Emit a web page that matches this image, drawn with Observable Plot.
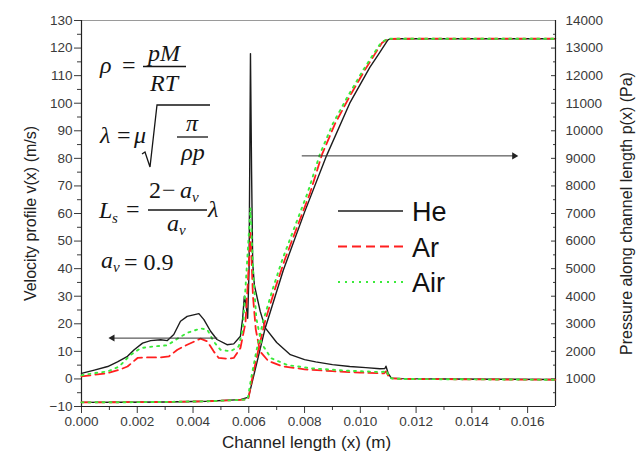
<!DOCTYPE html>
<html>
<head>
<meta charset="utf-8">
<script src="https://cdn.jsdelivr.net/npm/d3@7"></script>
<script src="https://cdn.jsdelivr.net/npm/@observablehq/plot@0.6"></script>
<style>
  html, body { margin: 0; padding: 0; background: #fff; }
  #chart { width: 644px; height: 463px; }
</style>
</head>
<body>
<div id="chart"></div>
<script>
// ---- axes ----
const xDomain = [0, 0.017];
const vDomain = [-10, 130];          // velocity (m/s), left axis
const pDomain = [0, 14000];          // pressure (Pa), right axis
const xMajor = [0, 0.002, 0.004, 0.006, 0.008, 0.010, 0.012, 0.014, 0.016];
const xMinor = [0.001, 0.003, 0.005, 0.007, 0.009, 0.011, 0.013, 0.015];
const vMajor = [-10, 0, 10, 20, 30, 40, 50, 60, 70, 80, 90, 100, 110, 120, 130];
const vMinor = [-5, 5, 15, 25, 35, 45, 55, 65, 75, 85, 95, 105, 115, 125];
const pMajor = [1000, 2000, 3000, 4000, 5000, 6000, 7000, 8000, 9000, 10000, 11000, 12000, 13000, 14000];
const pMinor = [500, 1500, 2500, 3500, 4500, 5500, 6500, 7500, 8500, 9500, 10500, 11500, 12500, 13500];

// ---- velocity profiles v(x) (m/s) ----
const heVx = [0, 0.00046, 0.00094, 0.00129, 0.00165, 0.00189, 0.00219, 0.00248, 0.00284, 0.00308, 0.00331, 0.00355, 0.00379, 0.00421, 0.00439, 0.00463, 0.00486, 0.00522, 0.00546, 0.00570, 0.00578, 0.00584, 0.00590, 0.00596, 0.00601, 0.00606, 0.00610, 0.00614, 0.00620, 0.00641, 0.00659, 0.00700, 0.00749, 0.00800, 0.00840, 0.00900, 0.00962, 0.01020, 0.01070, 0.01088, 0.01092, 0.01100, 0.01111, 0.01150, 0.01300, 0.01500, 0.01700];
const heV  = [2.0, 3.2, 4.5, 6.2, 8.2, 10.6, 13.0, 13.9, 14.2, 13.9, 16.1, 20.9, 22.7, 23.7, 21.5, 17.3, 14.3, 12.4, 12.7, 15.5, 22, 30, 27, 22, 40, 118, 75, 42, 34, 24.5, 18.5, 13.2, 8.8, 7.0, 6.2, 5.2, 4.5, 4.1, 3.7, 3.8, 4.6, 2.0, 0.3, 0.1, 0.0, -0.1, -0.2];

const arVx = [0, 0.00046, 0.00094, 0.00135, 0.00165, 0.00201, 0.00236, 0.00284, 0.00314, 0.00344, 0.00379, 0.00427, 0.00451, 0.00474, 0.00492, 0.00522, 0.00546, 0.00570, 0.00588, 0.00596, 0.00606, 0.00615, 0.00625, 0.00640, 0.00670, 0.00720, 0.00800, 0.00900, 0.01000, 0.01085, 0.01092, 0.01100, 0.01111, 0.01150, 0.01300, 0.01500, 0.01700];
const arV  = [0.9, 1.5, 2.1, 3.3, 4.5, 7.6, 7.8, 7.8, 8.2, 10.6, 12.4, 14.6, 13.6, 10.0, 7.6, 7.3, 7.6, 11.2, 20.3, 34, 53, 30, 18, 10, 6.5, 4.6, 3.5, 2.8, 2.3, 2.0, 2.7, 1.2, 0.2, 0.0, -0.1, -0.2, -0.3];

const airVx = [0, 0.00046, 0.00094, 0.00135, 0.00177, 0.00213, 0.00260, 0.00308, 0.00344, 0.00379, 0.00427, 0.00451, 0.00474, 0.00498, 0.00534, 0.00564, 0.00579, 0.00590, 0.00606, 0.00616, 0.00627, 0.00645, 0.00680, 0.00740, 0.00830, 0.00950, 0.01070, 0.01088, 0.01093, 0.01100, 0.01111, 0.01150, 0.01300, 0.01500, 0.01700];
const airV  = [1.3, 2.1, 2.7, 4.5, 8.8, 11.2, 11.8, 12.2, 14.6, 16.7, 18.3, 17.9, 13.6, 10.6, 10.0, 11.8, 18.5, 36, 62, 38, 22, 13, 7.5, 5.0, 3.8, 3.0, 2.5, 2.6, 3.1, 1.5, 0.2, 0.0, -0.1, -0.2, -0.3];

// ---- pressure along the channel p(x) (Pa) ----
const hePx = [0, 0.0015, 0.0030, 0.0045, 0.0057, 0.00599, 0.00659, 0.00724, 0.00800, 0.00879, 0.00962, 0.01034, 0.01064, 0.01099, 0.01110, 0.01300, 0.01500, 0.01700];
const heP  = [150, 155, 165, 190, 250, 340, 2850, 4950, 7050, 9100, 11000, 12300, 12750, 13300, 13340, 13340, 13340, 13340];

const arPx = [0, 0.0015, 0.0030, 0.0045, 0.0057, 0.00598, 0.00612, 0.00634, 0.00659, 0.00695, 0.00730, 0.00773, 0.00820, 0.00863, 0.00909, 0.00962, 0.01016, 0.01052, 0.01077, 0.01099, 0.01300, 0.01500, 0.01700];
const arP  = [150, 155, 165, 190, 240, 260, 1000, 2050, 3119, 4300, 5350, 6500, 7750, 9150, 10250, 11250, 12200, 12780, 13180, 13337, 13340, 13340, 13340];

const airPx = [0, 0.0015, 0.0030, 0.0045, 0.0057, 0.00596, 0.00608, 0.00628, 0.00652, 0.00687, 0.00721, 0.00764, 0.00811, 0.00855, 0.00901, 0.00955, 0.01010, 0.01047, 0.01073, 0.01097, 0.01300, 0.01500, 0.01700];
const airP  = [150, 155, 165, 190, 240, 260, 1000, 2050, 3119, 4300, 5350, 6500, 7750, 9150, 10250, 11250, 12200, 12780, 13180, 13337, 13340, 13340, 13340];

// arrows tying each family of curves to its axis
const arrowX1 = [0.00487, 0.00790];
const arrowX2 = [0.00111, 0.01552];
const arrowV  = [14.8, 80.9];

const gases = ["He", "Ar", "Air"];
const styles = {
  He:  {color: "#1c1c1c", dash: null,  width: 1.4},
  Ar:  {color: "#ff1f1f", dash: "9,5", width: 1.8},
  Air: {color: "#3bea3b", dash: "2,5", width: 1.9}
};

// pressure is drawn on the velocity scale, the right axis relabels it
const pToV = d3.scaleLinear().domain(pDomain).range(vDomain);

function rows(gas, xs, ys, f = (d) => d) {
  return xs.map((x, i) => ({gas, x, y: f(ys[i])}));
}
const velocity = [...rows("He", heVx, heV), ...rows("Ar", arVx, arV), ...rows("Air", airVx, airV)];
const pressure = [...rows("He", hePx, heP, pToV), ...rows("Ar", arPx, arP, pToV), ...rows("Air", airPx, airP, pToV)];
const arrows = arrowX1.map((x1, i) => ({x1, x2: arrowX2[i], y: arrowV[i]}));

const lineMarks = gases.flatMap((g) => {
  const s = styles[g];
  const opts = {x: "x", y: "y", stroke: s.color, strokeWidth: s.width, strokeDasharray: s.dash};
  return [
    Plot.line(pressure.filter((d) => d.gas === g), opts),
    Plot.line(velocity.filter((d) => d.gas === g), opts)
  ];
});

const svg = Plot.plot({
  width: 644,
  height: 463,
  marginLeft: 81,
  marginRight: 89,
  marginTop: 20,
  marginBottom: 57,
  style: {fontFamily: "'Liberation Sans', Arial, sans-serif", fontSize: "13.5px", color: "#3a3a3a", background: "#fff"},
  x: {domain: xDomain},
  y: {domain: vDomain},
  marks: [
    // x axis
    Plot.axisX({ticks: xMajor, tickSize: 7, tickPadding: 3, tickFormat: d3.format(".3f"), label: null}),
    Plot.axisX({ticks: xMinor, tickSize: 4, fill: "none", label: null}),
    // left velocity axis
    Plot.axisY({anchor: "left", ticks: vMajor, tickSize: 7, tickPadding: 2, label: null}),
    Plot.axisY({anchor: "left", ticks: vMinor, tickSize: 4, fill: "none", label: null}),
    // right pressure axis, ticks pointing inward
    Plot.axisY({anchor: "right", ticks: pMajor.map(pToV), tickSize: 0, tickPadding: 10,
      tickFormat: (d) => String(Math.round(pToV.invert(d))), label: null}),
    Plot.axisY({anchor: "right", ticks: pMajor.map(pToV), tickSize: 5, insetRight: 5, fill: "none", label: null}),
    Plot.axisY({anchor: "right", ticks: pMinor.map(pToV), tickSize: 3, insetRight: 3, fill: "none", label: null}),
    // frame
    Plot.ruleY([vDomain[1]], {stroke: "#9a9a9a", strokeWidth: 1.2}),
    Plot.ruleY([vDomain[0]], {stroke: "#222", strokeWidth: 1.2}),
    Plot.ruleX([xDomain[0]], {stroke: "#222", strokeWidth: 1.2}),
    Plot.ruleX([xDomain[1]], {stroke: "#222", strokeWidth: 1.2}),
    // axis titles
    Plot.text(["Channel length (x) (m)"], {frameAnchor: "bottom", textAnchor: "middle", dy: 41, dx: -12, fontSize: 17, fill: "#222"}),
    Plot.text(["Velocity profile v(x) (m/s)"], {frameAnchor: "left", textAnchor: "middle", dx: -51, rotate: -90, fontSize: 16, fill: "#222"}),
    Plot.text(["Pressure along channel length p(x) (Pa)"], {frameAnchor: "right", textAnchor: "middle", dx: 71, rotate: -90, fontSize: 16, fill: "#222"}),
    // curves
    ...lineMarks,
    // arrows
    Plot.link(arrows, {x1: "x1", x2: "x2", y1: "y", y2: "y", stroke: "#333", strokeWidth: 1}),
    Plot.dot(arrows, {x: "x2", y: "y", symbol: "triangle", r: 2.6, fill: "#222", stroke: "none",
      rotate: (d) => (d.x2 > d.x1 ? 90 : -90)})
  ]
});
document.getElementById("chart").appendChild(svg);

// ---- legend ----
const root = d3.select(svg);
const legend = root.append("g")
  .attr("font-family", "'Liberation Sans', Arial, sans-serif")
  .attr("text-anchor", "start");
const legendRowY = [211, 246.5, 282];
gases.forEach((g, i) => {
  const s = styles[g];
  legend.append("line")
    .attr("x1", 338).attr("x2", 403).attr("y1", legendRowY[i]).attr("y2", legendRowY[i])
    .attr("stroke", s.color).attr("stroke-width", s.width + 0.3)
    .attr("stroke-dasharray", s.dash);
  legend.append("text")
    .attr("x", 412).attr("y", legendRowY[i] + 10)
    .attr("font-size", 27).attr("fill", "#111")
    .text(g);
});

// ---- slip-flow relations ----
const eq = root.append("g")
  .attr("font-family", "'Liberation Serif', 'Times New Roman', serif")
  .attr("font-size", 24).attr("fill", "#151515");

function txt(x, y, s, {italic = true, anchor = "start", size = null} = {}) {
  const t = eq.append("text").attr("x", x).attr("y", y).attr("text-anchor", anchor)
    .attr("font-style", italic ? "italic" : "normal").text(s);
  if (size) t.attr("font-size", size);
  return t;
}
function bar(x1, x2, y) {
  eq.append("line").attr("x1", x1).attr("x2", x2).attr("y1", y).attr("y2", y)
    .attr("stroke", "#151515").attr("stroke-width", 1.3);
}

// rho = pM / RT
txt(100, 73, "ρ");
txt(122, 73, "=", {italic: false});
txt(164, 61, "pM", {anchor: "middle"});
bar(143, 186, 66.5);
txt(164, 91, "RT", {anchor: "middle"});

// lambda = mu sqrt(pi / (rho p))
txt(100, 143, "λ");
txt(117, 143, "=", {italic: false});
txt(134, 143, "μ");
eq.append("path")
  .attr("d", "M142,154 L145,152 L150,167 L157,105 L210,105")
  .attr("fill", "none").attr("stroke", "#151515").attr("stroke-width", 1.3);
txt(192, 131, "π", {anchor: "middle"});
bar(177, 208, 137);
txt(193, 160, "ρp", {anchor: "middle"});

// L_s = (2 - a_v) / a_v * lambda
txt(99, 218, "L");
txt(112, 223, "s", {size: 15});
txt(126, 217, "=", {italic: false});
txt(149, 198, "2", {italic: false});
txt(162, 198, "−", {italic: false});
txt(180, 198, "a");
txt(192, 202, "v", {size: 15});
bar(148, 207, 210);
txt(167, 231, "a");
txt(179, 235, "v", {size: 15});
txt(208, 217, "λ");

// a_v = 0.9
txt(101, 268, "a");
txt(113, 272, "v", {size: 15});
txt(124, 270, "= 0.9", {italic: false});
</script>
</body>
</html>
